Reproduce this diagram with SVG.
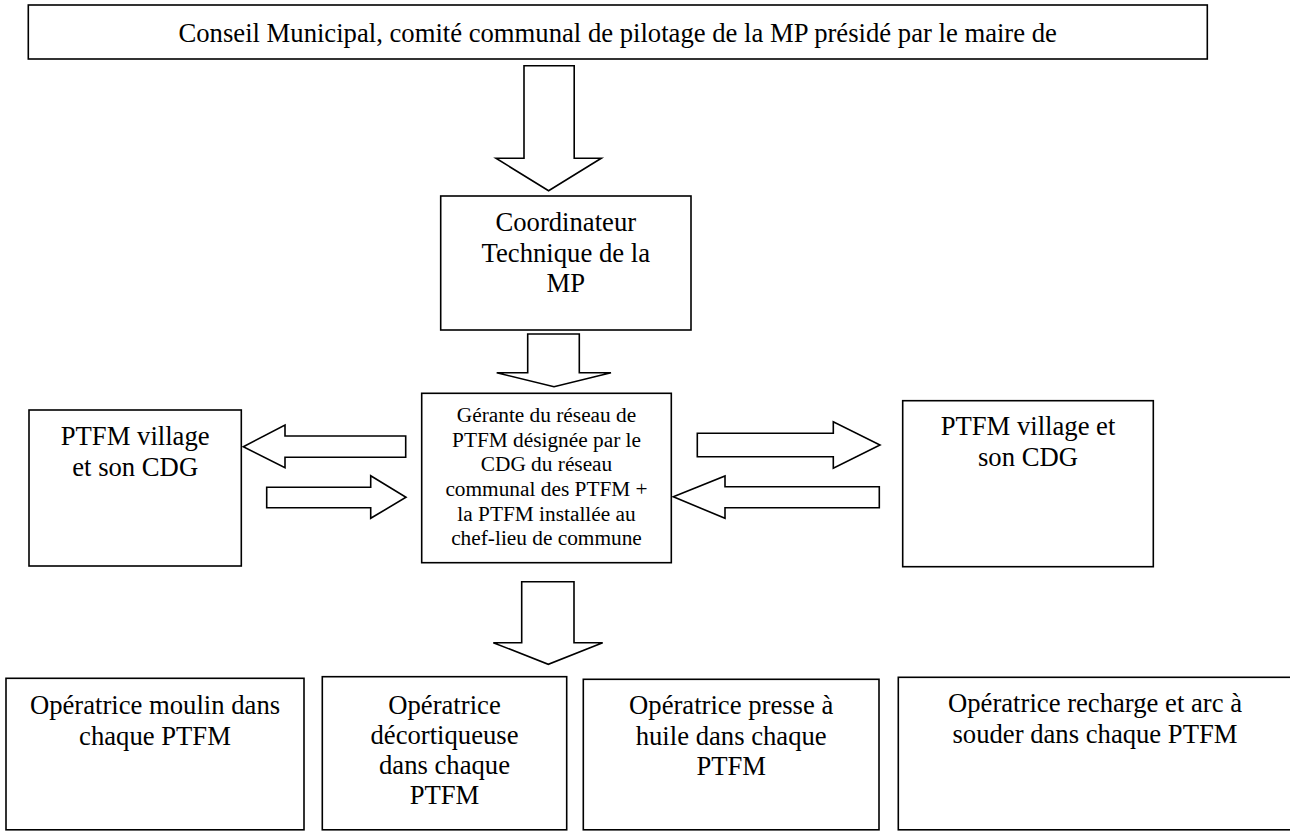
<svg xmlns="http://www.w3.org/2000/svg" width="1290" height="831" viewBox="0 0 1290 831">
<style>
.box{fill:#fff;stroke:#000;stroke-width:1.6}
.arr{fill:#fff;stroke:#000;stroke-width:1.6;stroke-linejoin:miter}
text{font-family:"Liberation Serif","Times New Roman",serif;fill:#000;text-anchor:middle}
.t20{font-size:26.67px}
.t16{font-size:21.33px}
</style>
<rect width="1290" height="831" fill="#fff"/>
<g id="connectors">
<polygon class="arr" points="524,65.7 574.2,65.7 574.2,158.3 601.3,158.3 548.6,190.7 496,158.3 524,158.3"/>
<polygon class="arr" points="527.7,334 579.3,334 579.3,372.7 611,372.7 554,386.7 496.7,372.7 527.7,372.7"/>
<polygon class="arr" points="521.7,581.7 574,581.7 574,642.7 602.7,642.7 548.3,664.3 493.3,642.7 521.7,642.7"/>
<polygon class="arr" points="405.7,436 285,436 285,425 243.3,446.7 285,467.7 285,457.3 405.7,457.3"/>
<polygon class="arr" points="266.7,487.3 370.7,487.3 370.7,475.7 406,497.3 370.7,518.3 370.7,507.7 266.7,507.7"/>
<polygon class="arr" points="697.3,433.3 833.3,433.3 833.3,421.7 880,445 833.3,468.3 833.3,456.7 697.3,456.7"/>
<polygon class="arr" points="879.3,486.7 725,486.7 725,476 673.3,496.8 725,518.3 725,507.7 879.3,507.7"/>
</g>
<g font-family="Liberation Serif, Times New Roman, serif">
<g id="conseil">
<rect class="box" x="28.3" y="5" width="1179" height="54"/>
<text class="t20" x="617.7" y="41.7">Conseil Municipal, comité communal de pilotage de la MP présidé par le maire de</text>
</g>
<g id="coordinateur">
<rect class="box" x="440.7" y="196" width="250.3" height="134"/>
<text class="t20" x="565.8" y="231">Coordinateur</text>
<text class="t20" x="565.8" y="261.5">Technique de la</text>
<text class="t20" x="565.8" y="292">MP</text>
</g>
<g id="gerante">
<rect class="box" x="421.7" y="393.3" width="249.6" height="169.4"/>
<text class="t16" x="546.5" y="422.2">Gérante du réseau de</text>
<text class="t16" x="546.5" y="446.8">PTFM désignée par le</text>
<text class="t16" x="546.5" y="471.4">CDG du réseau</text>
<text class="t16" x="546.5" y="496">communal des PTFM +</text>
<text class="t16" x="546.5" y="520.6">la PTFM installée au</text>
<text class="t16" x="546.5" y="545.2">chef-lieu de commune</text>
</g>
<g id="village-gauche">
<rect class="box" x="29" y="410" width="212.3" height="156"/>
<text class="t20" x="135.2" y="445">PTFM village</text>
<text class="t20" x="135.2" y="476">et son CDG</text>
</g>
<g id="village-droite">
<rect class="box" x="902.7" y="400.7" width="250.6" height="166"/>
<text class="t20" x="1028" y="435">PTFM village et</text>
<text class="t20" x="1028" y="466">son CDG</text>
</g>
<g id="op-moulin">
<rect class="box" x="6" y="678.3" width="298" height="151.5"/>
<text class="t20" x="155" y="714">Opératrice moulin dans</text>
<text class="t20" x="155" y="744.5">chaque PTFM</text>
</g>
<g id="op-decortiqueuse">
<rect class="box" x="322.3" y="676.7" width="244.4" height="153.1"/>
<text class="t20" x="444.5" y="714">Opératrice</text>
<text class="t20" x="444.5" y="744">décortiqueuse</text>
<text class="t20" x="444.5" y="774">dans chaque</text>
<text class="t20" x="444.5" y="804">PTFM</text>
</g>
<g id="op-presse">
<rect class="box" x="583.3" y="679.3" width="295.7" height="150.5"/>
<text class="t20" x="731.2" y="714">Opératrice presse à</text>
<text class="t20" x="731.2" y="745">huile dans chaque</text>
<text class="t20" x="731.2" y="775">PTFM</text>
</g>
<g id="op-recharge">
<rect class="box" x="898.3" y="677.3" width="395" height="152.5"/>
<text class="t20" x="1095" y="712">Opératrice recharge et arc à</text>
<text class="t20" x="1095" y="743">souder dans chaque PTFM</text>
</g>
</g>
</svg>
